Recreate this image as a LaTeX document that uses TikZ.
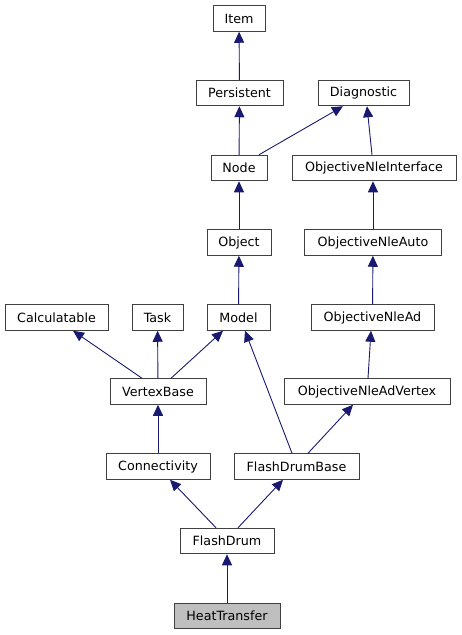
\documentclass[tikz,border=0pt]{standalone}
\usepackage{fontspec}
\setmainfont{DejaVu Sans}
\usetikzlibrary{arrows.meta, positioning}
\definecolor{edge}{RGB}{25, 25, 112}
\definecolor{frame}{RGB}{64, 64, 64}
\definecolor{current}{RGB}{191, 191, 191}
\tikzset{
    cls/.style={rectangle, draw=frame, line width=1pt, fill=white, align=center, font=\fontsize{12.7}{15}\selectfont, inner sep=0pt, minimum height=25.5pt},
    arr/.style={-{Triangle[length=11pt, width=10pt]}, line width=0.9pt, edge}
}
\begin{document}
\begin{tikzpicture}[x=1pt, y=-1pt]
        \useasboundingbox (0,0) rectangle (461,635);
        \node[cls, minimum width=52pt] (item) at (239,18.5) {Item};
        \node[cls, minimum width=87pt] (persistent) at (239.5,93) {Persistent};
        \node[cls, minimum width=91pt] (diagnostic) at (363.5,93) {Diagnostic};
        \node[cls, minimum width=56pt] (node) at (239,168) {Node};
        \node[cls, minimum width=164pt] (nleiface) at (374,168) {ObjectiveNleInterface};
        \node[cls, minimum width=64pt] (object) at (239,242.5) {Object};
        \node[cls, minimum width=137pt] (nleauto) at (373,242.5) {ObjectiveNleAuto};
        \node[cls, minimum width=103pt] (calc) at (56.5,317.5) {Calculatable};
        \node[cls, minimum width=51pt] (task) at (157.5,317.5) {Task};
        \node[cls, minimum width=63pt] (model) at (238.5,317.5) {Model};
        \node[cls, minimum width=123pt] (nlead) at (372.5,317.5) {ObjectiveNleAd};
        \node[cls, minimum width=96pt] (vertex) at (158,391.5) {VertexBase};
        \node[cls, minimum width=166pt] (nleadvertex) at (367,391.5) {ObjectiveNleAdVertex};
        \node[cls, minimum width=104pt] (connect) at (158,466.5) {Connectivity};
        \node[cls, minimum width=125pt] (fdbase) at (296.5,466.5) {FlashDrumBase};
        \node[cls, minimum width=94pt] (flashdrum) at (227,541) {FlashDrum};
        \node[cls, fill=current, minimum width=106pt] (heat) at (227,616) {HeatTransfer};

        \draw[arr] (persistent) -- (item);
        \draw[arr] (node) -- (persistent);
        \draw[arr] ([xshift=20pt]node.north) -- ([xshift=-20.5pt]diagnostic.south);
        \draw[arr] ([xshift=-2pt]nleiface.north) -- ([xshift=3.5pt]diagnostic.south);
        \draw[arr] (object) -- (node);
        \draw[arr] (nleauto) -- ([xshift=-1pt]nleiface.south);
        \draw[arr] (model) -- (object);
        \draw[arr] (nlead) -- (nleauto);
        \draw[arr] ([xshift=-16pt]vertex.north) -- ([xshift=16.5pt]calc.south);
        \draw[arr] (vertex) -- (task);
        \draw[arr] ([xshift=13pt]vertex.north) -- ([xshift=-15.5pt]model.south);
        \draw[arr] ([xshift=-4.5pt]fdbase.north) -- ([xshift=6.5pt]model.south);
        \draw[arr] ([xshift=1pt]nleadvertex.north) -- ([xshift=-1.5pt]nlead.south);
        \draw[arr] ([xshift=11.5pt]fdbase.north) -- ([xshift=-14pt]nleadvertex.south);
        \draw[arr] (connect) -- (vertex);
        \draw[arr] ([xshift=-11pt]flashdrum.north) -- ([xshift=12pt]connect.south);
        \draw[arr] ([xshift=11pt]flashdrum.north) -- ([xshift=-13.5pt]fdbase.south);
        \draw[arr] (heat) -- (flashdrum);
    \end{tikzpicture}
\end{document}
